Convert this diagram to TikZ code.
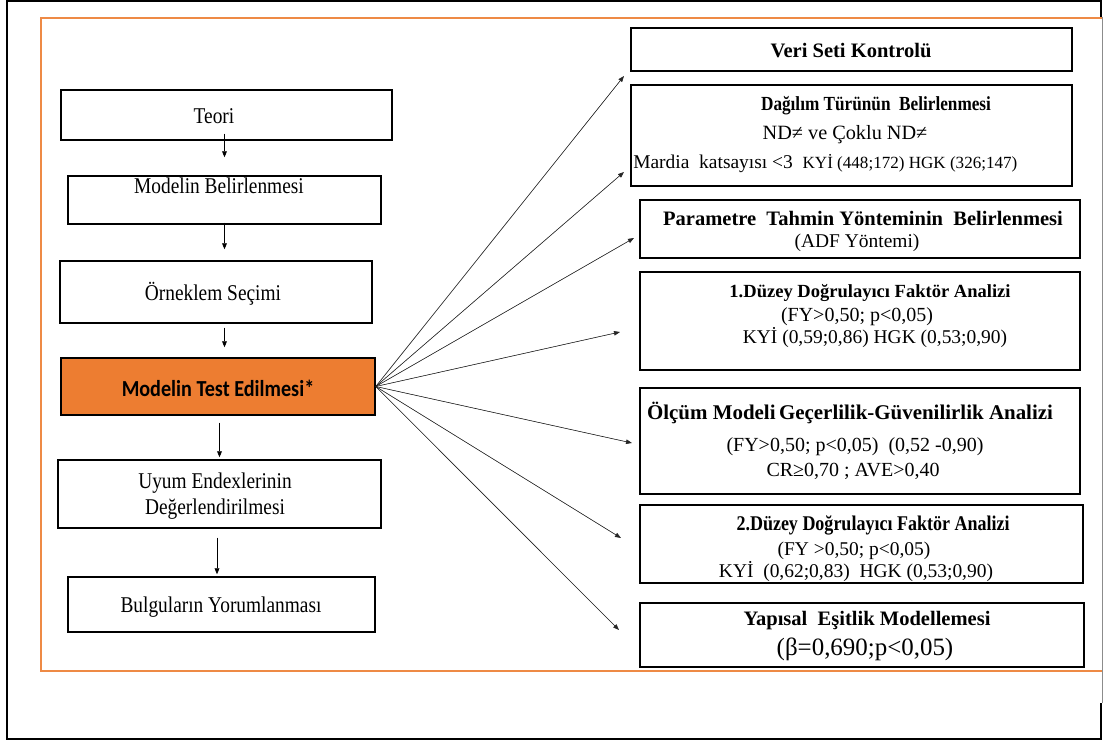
\documentclass[tikz,border=0pt]{standalone}
\usepackage{fontspec}
\setmainfont{Liberation Serif}
\newfontfamily\narrowserif{Liberation Serif}[FakeStretch=0.86]
\newfontfamily\sanscarl{Carlito}[FakeStretch=0.88]
\usetikzlibrary{arrows.meta,fit}
\newlength\pu
\setlength\pu{0.75pt}
\definecolor{frameorange}{HTML}{EE8A45}
\definecolor{fillorange}{HTML}{ED7D31}

\tikzset{
  box/.style={draw=black, line width=1.1pt, inner sep=0pt},
  lefttxt/.style={anchor=base, inner sep=0pt, font=\narrowserif\fontsize{16.9pt}{20pt}\selectfont},
  ttl/.style={anchor=base, inner sep=0pt, font=\bfseries\fontsize{15.4pt}{18pt}\selectfont},
  body/.style={anchor=base, inner sep=0pt, font=\fontsize{15pt}{18pt}\selectfont},
  downarrow/.style={-{Triangle[length=4.5pt,width=3.6pt]}, line width=0.6pt},
  fanarrow/.style={-{Triangle[length=4.5pt,width=3.4pt]}, line width=0.45pt, draw=black!85, fill=black}
}

\begin{document}
\begin{tikzpicture}[x=0.75pt, y=-0.75pt]
\useasboundingbox (0,0) rectangle (1103,742);

% outer frames
\draw[line width=1.9pt] (1101,17) -- (1101,1) -- (7,1) -- (7,739) -- (1101,739) -- (1101,703);
\draw[line width=0.4pt, black!45] (1102,17) -- (1102,703);
\draw[frameorange, line width=1.2pt] (1102,18) -- (41,18) -- (41,671) -- (1102,671);

% left column: process steps
\node[box, fit={(61,90) (392,140)}] (teori) {};
\node[lefttxt] (teoriT) at (214,123) {Teori};

\node[box, fit={(68,176) (381,224)}] (belirle) {};
\node[lefttxt] (belirleT) at (219,193) {Modelin Belirlenmesi};

\node[box, fit={(60,261) (372,323)}] (ornek) {};
\node[lefttxt] (ornekT) at (213,300) {Örneklem Seçimi};

\node[box, fill=fillorange, fit={(61,358) (375,415)}] (test) {};
\node[anchor=base, inner sep=0pt, font=\sanscarl\bfseries\fontsize{17.2pt}{20pt}\selectfont] (testT) at (218,396) {Modelin Test Edilmesi*};

\node[box, fit={(58,460) (381,528)}] (uyum) {};
\node[lefttxt] (uyumT1) at (215,488) {Uyum Endexlerinin};
\node[lefttxt] (uyumT2) at (215,514) {Değerlendirilmesi};

\node[box, fit={(68,577) (375,632)}] (bulgu) {};
\node[lefttxt] (bulguT) at (221,612) {Bulguların Yorumlanması};

% arrows between the steps
\draw[downarrow, shorten <=-7\pu, shorten >=18\pu] (teori.south -| belirle.north) -- (belirle.north);
\draw[downarrow, shorten <=-2\pu, shorten >=11\pu] (belirle.south) -- (belirle.south |- ornek.north);
\draw[downarrow, shorten <=4\pu, shorten >=10\pu] (ornek.south -| belirle.south) -- (test.north -| belirle.south);
\draw[downarrow, shorten <=7\pu, shorten >=2\pu] (test.south -| uyum.north) -- (uyum.north);
\draw[downarrow, shorten <=9\pu, shorten >=2\pu] ([xshift=-2.5\pu]uyum.south) -- ([xshift=-2.5\pu]uyum.south |- bulgu.north);

% right column: analysis stages
\node[box, fit={(631,28) (1072,71)}] (veri) {};
\node[ttl] (veriT) at (851,58) {Veri Seti Kontrolü};

\node[box, fit={(631,85) (1072,186)}] (dagilim) {};
\node[ttl, font=\narrowserif\bfseries\fontsize{15pt}{18pt}\selectfont] (dagilimT1) at (876,110) {Dağılım Türünün\ \ Belirlenmesi};
\node[body, font=\fontsize{15.2pt}{18pt}\selectfont] (dagilimT2) at (845,139) {ND≠ ve Çoklu ND≠};
\node[body, anchor=base west, font=\fontsize{14.6pt}{18pt}\selectfont] (dagilimT3) at (633,168) {Mardia\ \ katsayısı <3\ \ {\fontsize{12.8pt}{15pt}\selectfont KYİ (448;172) HGK (326;147)}};

\node[box, fit={(640,200) (1080,258)}] (param) {};
\node[ttl] (paramT1) at (863,225) {Parametre\ \ Tahmin Yönteminin\ \ Belirlenmesi};
\node[body, font=\fontsize{14.6pt}{18pt}\selectfont] (paramT2) at (857,247) {(ADF Yöntemi)};

\node[box, fit={(640,272) (1080,370)}] (duzey1) {};
\node[ttl, font=\bfseries\fontsize{13.9pt}{16pt}\selectfont] (duzey1T1) at (870,297) {1.Düzey Doğrulayıcı Faktör Analizi};
\node[body] (duzey1T2) at (857,321) {(FY>0,50; p<0,05)};
\node[body, font=\fontsize{14.6pt}{18pt}\selectfont] (duzey1T3) at (875,343) {KYİ (0,59;0,86) HGK (0,53;0,90)};

\node[box, fit={(640,388) (1080,494)}] (olcum) {};
\node[ttl, font=\bfseries\fontsize{15.7pt}{18pt}\selectfont] (olcumT1) at (850,419) {Ölçüm Modeli\,Geçerlilik-Güvenilirlik Analizi};
\node[body] (olcumT2) at (855,451) {(FY>0,50; p<0,05)\ \ (0,52 -0,90)};
\node[body] (olcumT3) at (853,476) {CR≥0,70 ; AVE>0,40};

\node[box, fit={(640,505) (1083,583)}] (duzey2) {};
\node[ttl, font=\narrowserif\bfseries\fontsize{15.7pt}{18pt}\selectfont] (duzey2T1) at (873,530) {2.Düzey Doğrulayıcı Faktör Analizi};
\node[body, font=\fontsize{14.6pt}{18pt}\selectfont] (duzey2T2) at (854,555) {(FY >0,50; p<0,05)};
\node[body, font=\fontsize{14.6pt}{18pt}\selectfont] (duzey2T3) at (856,577) {KYİ\ \ (0,62;0,83)\ \ HGK (0,53;0,90)};

\node[box, fit={(640,603) (1084,667)}] (yapisal) {};
\node[ttl] (yapisalT1) at (867,625) {Yapısal\ \ Eşitlik Modellemesi};
\node[body, font=\fontsize{18.7pt}{22pt}\selectfont] (yapisalT2) at (865,655) {(β=0,690;p<0,05)};

% arrow heads of the fan, left short of the stage boxes
\coordinate (f1) at (624,76);
\coordinate (f2) at (624,172);
\coordinate (f3) at (634,238);
\coordinate (f4) at (620,332);
\coordinate (f5) at (632,443);
\coordinate (f6) at (621,538);
\coordinate (f7) at (619,630);

\foreach \t in {f1,f2,f3,f4,f5,f6,f7}
  \draw[fanarrow] (test.east) -- (\t);
\end{tikzpicture}
\end{document}
